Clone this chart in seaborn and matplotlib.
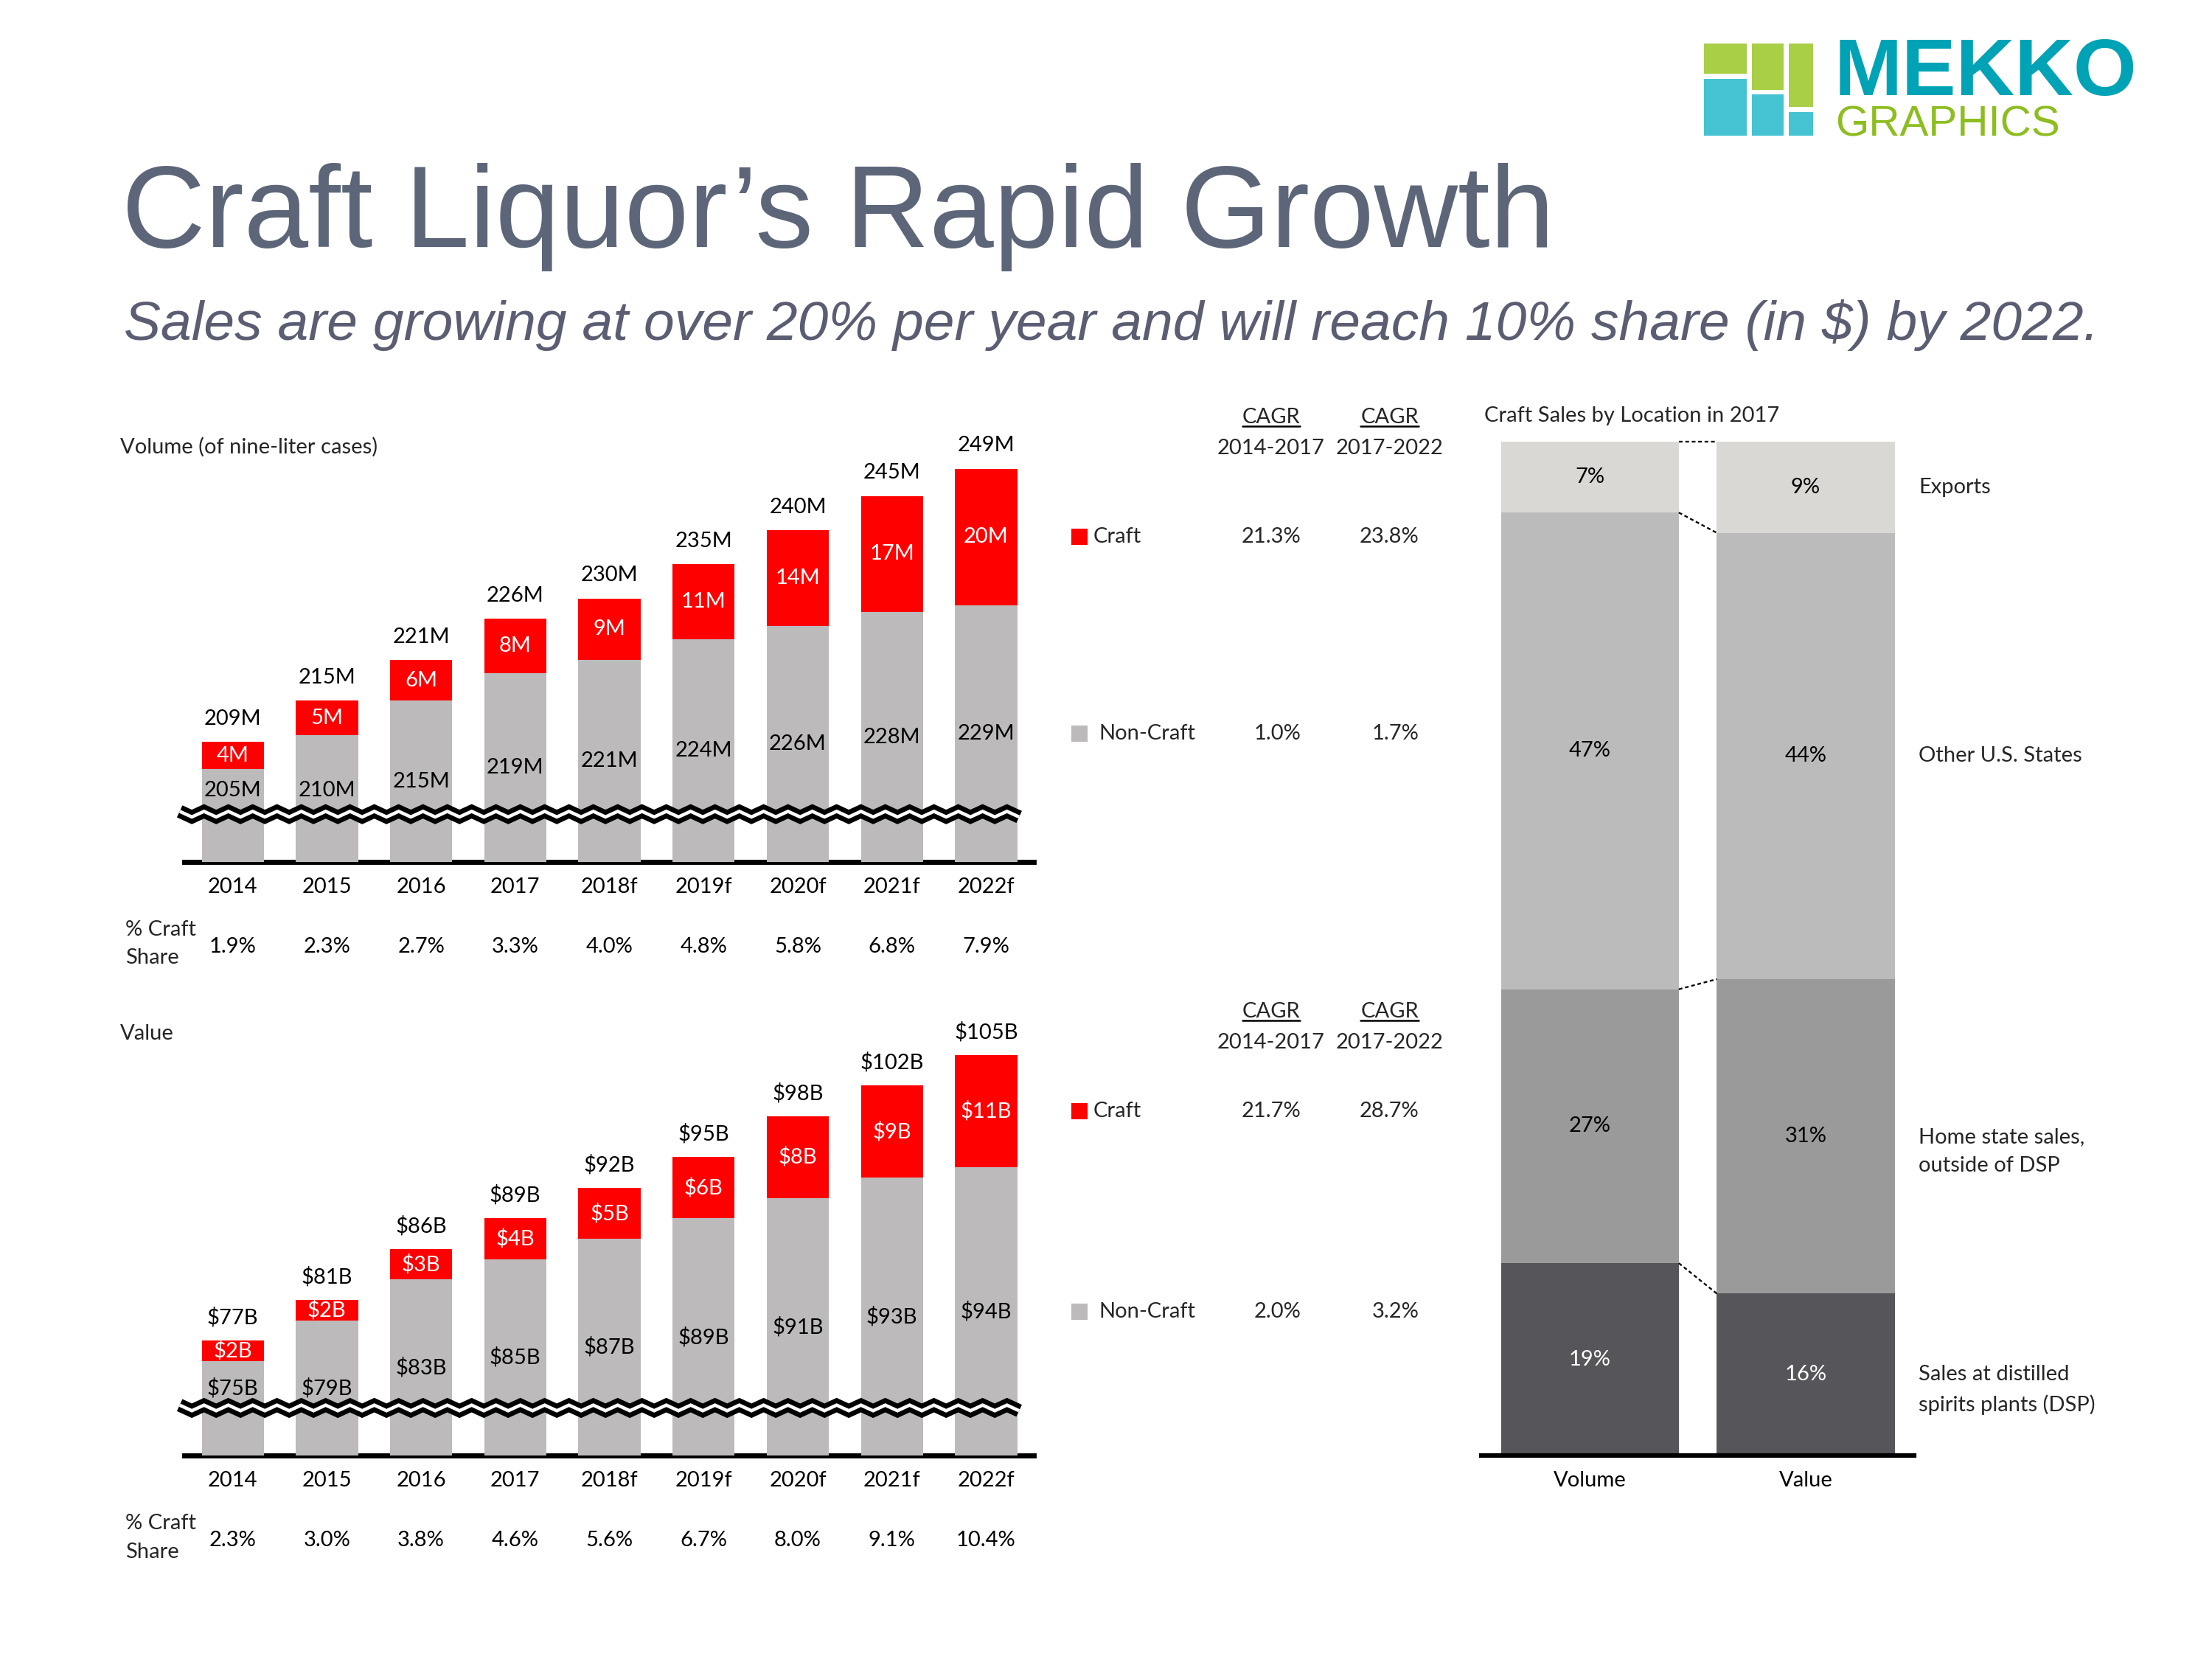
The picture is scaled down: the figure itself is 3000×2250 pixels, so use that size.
import numpy as np
import pandas as pd
import matplotlib
matplotlib.use("Agg")
import matplotlib.pyplot as plt
from matplotlib.patches import Rectangle
import seaborn as sns

# ---------------- data ----------------
years = ["2014", "2015", "2016", "2017", "2018f", "2019f", "2020f", "2021f", "2022f"]

vol_noncraft = [205, 210, 215, 219, 221, 224, 226, 228, 229]
vol_craft = [4, 5, 6, 8, 9, 11, 14, 17, 20]
vol_total = [209, 215, 221, 226, 230, 235, 240, 245, 249]
vol_share = [1.9, 2.3, 2.7, 3.3, 4.0, 4.8, 5.8, 6.8, 7.9]
vol_cagr_craft = ["21.3%", "23.8%"]
vol_cagr_noncraft = ["1.0%", "1.7%"]

val_noncraft = [75, 79, 83, 85, 87, 89, 91, 93, 94]
val_craft = [2, 2, 3, 4, 5, 6, 8, 9, 11]
val_total = [77, 81, 86, 89, 92, 95, 98, 102, 105]
val_share = [2.3, 3.0, 3.8, 4.6, 5.6, 6.7, 8.0, 9.1, 10.4]
val_cagr_craft = ["21.7%", "28.7%"]
val_cagr_noncraft = ["2.0%", "3.2%"]

cagr_periods = ["2014-2017", "2017-2022"]

loc_measures = ["Volume", "Value"]
loc_labels = ["Sales at distilled\nspirits plants (DSP)", "Home state sales,\noutside of DSP",
              "Other U.S. States", "Exports"]
loc_volume = [19, 27, 47, 7]
loc_value = [16, 31, 44, 9]

# ---------------- style ----------------
sns.set_theme(style="white")
plt.rcParams['font.family'] = ['Lato', 'DejaVu Sans']
RED = "#FF0000"
GRAY = "#BCBABB"
LOC_COLORS = ["#56565A", "#9A9A9A", "#BCBBBC", "#D9D8D4"]
FS = 14
LS = 1.6
PT = 0.918  # points per reference pixel (1568-wide reference)

W, H = 1568.0, 1176.0
fig = plt.figure(figsize=(20, 15), dpi=150)
fig.patch.set_facecolor("white")

ov = fig.add_axes([0, 0, 1, 1], zorder=-1)
ov.set_xlim(0, W)
ov.set_ylim(H, 0)
ov.axis("off")


def axes_at(x0, y0, x1, y1):
    a = fig.add_axes([x0 / W, 1 - y1 / H, (x1 - x0) / W, (y1 - y0) / H])
    a.set_facecolor("none")
    return a


def draw_break(ax, yval):
    x0, x1 = ax.get_xlim()
    d0 = ax.transData.transform((x0, yval))
    d1 = ax.transData.transform((x1, yval))
    period = 33.0
    amp = 3.8
    xs = np.arange(d0[0] - 6, d1[0] - 4, period / 2)
    ys = d0[1] + np.where(np.arange(len(xs)) % 2 == 0, amp, -amp)
    pts = ax.transData.inverted().transform(np.column_stack([xs, ys]))
    ax.plot(pts[:, 0], pts[:, 1], color="black", lw=8.6, solid_joinstyle="miter",
            solid_capstyle="butt", clip_on=False, zorder=6)
    ax.plot(pts[:, 0], pts[:, 1], color="white", lw=2.2, solid_joinstyle="miter",
            solid_capstyle="butt", clip_on=False, zorder=7)


cagr_heads = []


def growth_panel(top_px, base_px, y_base, px_per_unit, noncraft, craft, totals, share, fmt,
                 floor_val, break_val, header, head_y, cagr_craft, cagr_noncraft):
    ax = axes_at(130.5, top_px, 733, base_px)
    stack = np.add(noncraft, craft)
    df = pd.DataFrame({"year": years, "stack": stack, "noncraft": noncraft})
    sns.barplot(data=df, x="year", y="stack", color=RED, saturation=1, width=0.66,
                linewidth=0, errorbar=None, ax=ax, zorder=2)
    sns.barplot(data=df, x="year", y="noncraft", color=GRAY, saturation=1, width=0.66,
                linewidth=0, errorbar=None, ax=ax, zorder=3)
    ax.set_xlim((130.5 - 165) / 66.75, (733 - 165) / 66.75)
    ax.set_ylim(y_base, y_base + (base_px - top_px) / px_per_unit)
    for s in ["top", "left", "right"]:
        ax.spines[s].set_visible(False)
    ax.spines["bottom"].set_linewidth(3.3)
    ax.spines["bottom"].set_color("black")
    ax.set_yticks([])
    ax.set_xlabel("")
    ax.set_ylabel("")
    ax.tick_params(axis="x", length=0, pad=10, labelsize=FS, labelcolor="black")
    for i in range(len(years)):
        ax.annotate(fmt(totals[i]), (i, stack[i]), xytext=(0, 15), textcoords="offset points",
                    ha="center", va="center", fontsize=FS, color="black")
        ax.text(i, noncraft[i] + craft[i] / 2, fmt(craft[i]), ha="center", va="center",
                fontsize=FS, color="white", zorder=8)
        ny = max((y_base + noncraft[i]) / 2, floor_val)
        ax.text(i, ny, fmt(noncraft[i]), ha="center", va="center", fontsize=FS,
                color="black", zorder=8)
        ax.annotate(f"{share[i]:.1f}%", xy=(i, 0), xycoords=ax.get_xaxis_transform(),
                    xytext=(0, -60 * PT), textcoords="offset points", ha="center",
                    va="center", fontsize=FS, color="black")
    draw_break(ax, break_val)
    # legend + CAGR
    yc = stack[-1] - craft[-1] / 2
    yn = (y_base + noncraft[-1]) / 2
    xs = lambda px: (px - 165) / 66.75
    ax.plot([xs(765)], [yc], marker="s", ms=9.4, color=RED, clip_on=False, lw=0)
    ax.plot([xs(765)], [yn], marker="s", ms=9.4, color=GRAY, clip_on=False, lw=0)
    ax.text(xs(775), yc, "Craft", ha="left", va="center", fontsize=FS)
    ax.text(xs(779), yn, "Non-Craft", ha="left", va="center", fontsize=FS)
    for j, xr in enumerate([922, 1006]):
        ax.text(xs(xr), yc, cagr_craft[j], ha="right", va="center", fontsize=FS)
        ax.text(xs(xr), yn, cagr_noncraft[j], ha="right", va="center", fontsize=FS)
    for j, xc in enumerate([901, 985]):
        t = ov.text(xc, head_y - 22, "CAGR", ha="center", va="center", fontsize=FS)
        cagr_heads.append(t)
        ov.text(xc, head_y, cagr_periods[j], ha="center", va="center", fontsize=FS)
    ov.text(85, header[1], header[0], ha="left", va="center", fontsize=FS)
    ov.text(89, base_px + 58, "% Craft\nShare", ha="left", va="center", fontsize=FS,
            linespacing=LS)
    return ax


# ---- volume panel ----
ax1 = growth_panel(300, 611, 191.4, 4.84, vol_noncraft, vol_craft, vol_total, vol_share,
                   lambda v: f"{v}M", 201.9, 198.4, ("Volume (of nine-liter cases)", 317), 318,
                   vol_cagr_craft, vol_cagr_noncraft)

# ---- value panel ----
ax2 = growth_panel(720, 1032, 65.7, 7.23, val_noncraft, val_craft, val_total, val_share,
                   lambda v: f"${v}B", 72.3, 70.4, ("Value", 733), 739,
                   val_cagr_craft, val_cagr_noncraft)

# ---- location panel ----
ax3 = axes_at(1050, 313, 1357, 1032)
cum_vol = np.cumsum(loc_volume)
cum_val = np.cumsum(loc_value)
for k in reversed(range(len(loc_labels))):
    dfk = pd.DataFrame({"measure": loc_measures, "cum": [cum_vol[k], cum_val[k]]})
    sns.barplot(data=dfk, x="measure", y="cum", color=LOC_COLORS[k], saturation=1,
                width=0.824, linewidth=0, errorbar=None, ax=ax3)
ax3.set_xlim(-0.503, 1.503)
ax3.set_ylim(0, 100)
for s in ["top", "left", "right"]:
    ax3.spines[s].set_visible(False)
ax3.spines["bottom"].set_linewidth(3.0)
ax3.spines["bottom"].set_color("black")
ax3.set_yticks([])
ax3.set_xlabel("")
ax3.set_ylabel("")
ax3.tick_params(axis="x", length=0, pad=10, labelsize=FS, labelcolor="black")
for j, (arr, cum) in enumerate([(loc_volume, cum_vol), (loc_value, cum_val)]):
    for k in range(len(arr)):
        ax3.text(j, cum[k] - arr[k] / 2, f"{arr[k]}%", ha="center", va="center",
                 fontsize=FS, color="white" if k == 0 else "black")
for k in range(len(loc_labels)):
    ax3.plot([0.412, 0.588], [cum_vol[k], cum_val[k]], color="black", lw=1.1,
             ls=(0, (2.2, 1.6)), clip_on=False)
    nlines = loc_labels[k].count("\n") + 1
    ax3.annotate(loc_labels[k], xy=(1.523, cum_val[k] - loc_value[k] / 2),
                 xytext=(0, -(nlines - 1) * 21.5 * PT / 2), textcoords="offset points",
                 ha="left", va="center", fontsize=FS, linespacing=LS,
                 annotation_clip=False)
ov.text(1052, 295, "Craft Sales by Location in 2017", ha="left", va="center", fontsize=FS)

# ---- title ----
ov.text(86, 175, "Craft Liquor\u2019s Rapid Growth", fontsize=75.5, family="Liberation Sans",
        color="#5D6679", ha="left", va="baseline")
ov.text(88, 241, "Sales are growing at over 20% per year and will reach 10% share (in $) by 2022.",
        fontsize=36.0, family="Liberation Sans", style="italic", color="#5B5E72",
        ha="left", va="baseline")

# ---- logo ----
GREEN_B = "#A9CF46"
BLUE_B = "#45C3D3"
for (x0, x1, y0, y1, c) in [(1208, 1238, 31, 52.4, GREEN_B), (1208, 1238, 55.7, 96, BLUE_B),
                            (1242, 1264.4, 31, 63.6, GREEN_B), (1242, 1264.4, 67.1, 96, BLUE_B),
                            (1268, 1285, 31, 75.9, GREEN_B), (1268, 1285, 79.2, 96, BLUE_B)]:
    ov.add_patch(Rectangle((x0, y0), x1 - x0, y1 - y0, color=c, lw=0))
ov.text(1300, 67.5, "MEKKO", fontsize=53, fontweight="bold", family="Liberation Sans",
        color="#00A3B5", ha="left", va="baseline")
ov.text(1301, 96.5, "GRAPHICS", fontsize=28, family="Liberation Sans",
        color="#8DBD20", ha="left", va="baseline")

# ---- underline CAGR headers ----
fig.canvas.draw()
r = fig.canvas.get_renderer()
inv = ov.transData.inverted()
for t in cagr_heads:
    bb = t.get_window_extent(r)
    (xa, ya), (xb, yb) = inv.transform([(bb.x0, bb.y0), (bb.x1, bb.y0)])
    ov.plot([xa, xb], [ya - 0.5, yb - 0.5], color="black", lw=1.2)

fig.savefig("out.png", dpi=150, facecolor="white")
